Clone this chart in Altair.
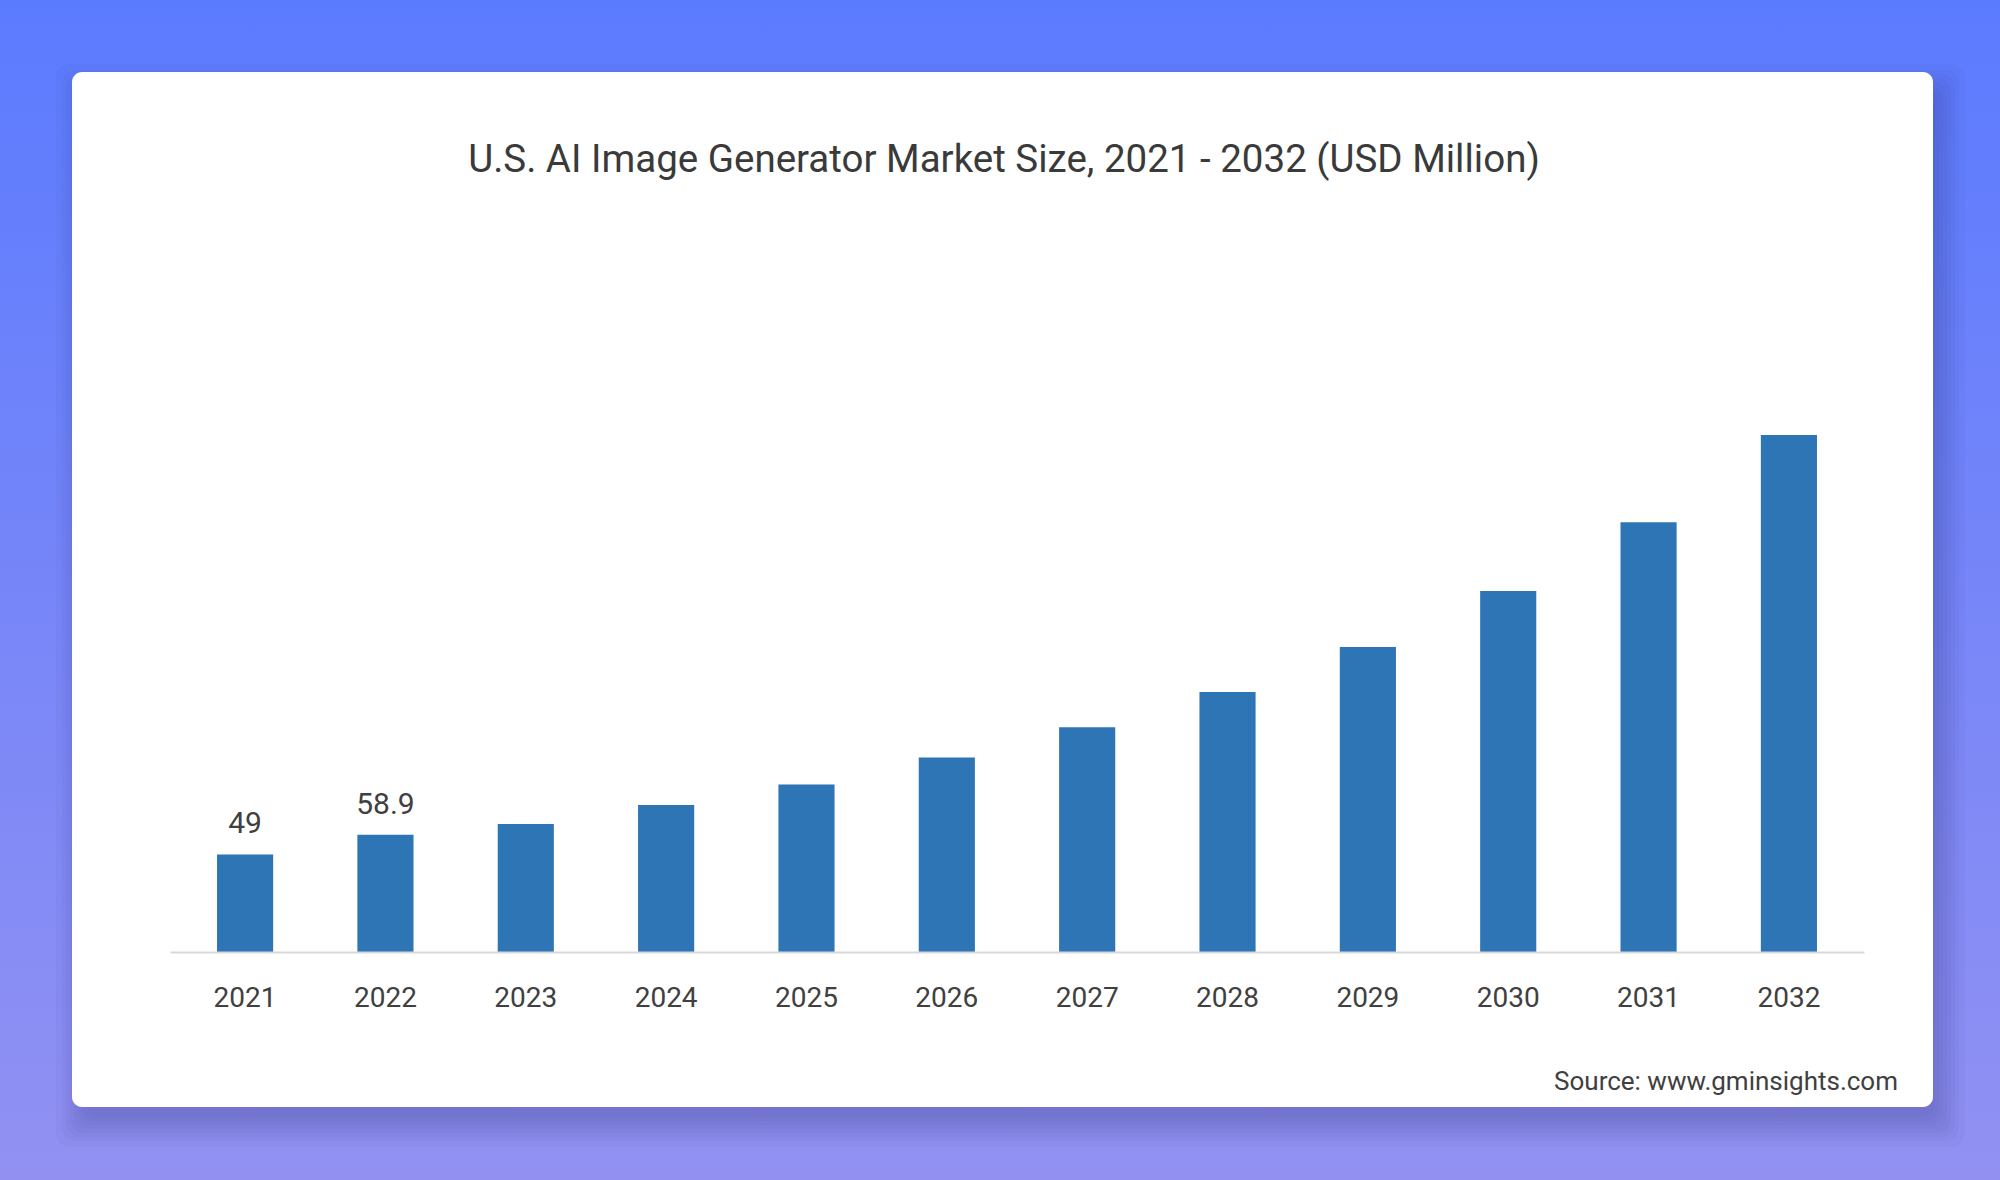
import altair as alt
import pandas as pd

# ---- data ----
years = ["2021", "2022", "2023", "2024", "2025", "2026",
         "2027", "2028", "2029", "2030", "2031", "2032"]
values = [49.0, 58.9, 64.3, 73.9, 84.2, 97.7,
          113.0, 130.7, 153.3, 181.4, 216.0, 259.8]
labeled_years = ["2021", "2022"]
label_texts = ["49", "58.9"]

TITLE = "U.S. AI Image Generator Market Size, 2021 - 2032 (USD Million)"
SOURCE = "Source: www.gminsights.com"

df = pd.DataFrame({"Year": years, "Value": values})
df_lab = pd.DataFrame({"Year": labeled_years,
                       "Value": [values[years.index(y)] for y in labeled_years],
                       "Label": label_texts})
one = pd.DataFrame({"k": [0]})

# ---- layout (canvas px) ----
W, H = 2000, 1180
PL, PT, PR, PB = 170, 355, 136, 228
PW, PH = W - PL - PR, H - PT - PB


def cx(X):
    return X - PL


def cy(Y):
    return Y - PT


FONT = "Roboto, Liberation Sans, sans-serif"
TXT = "#404040"

# background gradient
bg = alt.Chart(one).mark_rect(
    fill=alt.Gradient(
        gradient="linear",
        stops=[alt.GradientStop(color="#5b7bff", offset=0),
               alt.GradientStop(color="#9291f2", offset=1)],
        x1=0, x2=0, y1=0, y2=1),
).encode(x=alt.value(cx(0)), x2=alt.value(cx(W)),
         y=alt.value(cy(0)), y2=alt.value(cy(H)))

# card shadow (stacked translucent rects)
CARD = (72, 72, 1933, 1107)
shadows = []
for s in [-6, -2, 2, 6, 10, 14, 18, 24]:
    shadows.append(
        alt.Chart(one).mark_rect(fill="#1a1a6e", opacity=0.03, cornerRadius=14)
        .encode(x=alt.value(cx(CARD[0] + 8 - s)), x2=alt.value(cx(CARD[2] + 8 + s)),
                y=alt.value(cy(CARD[1] + 16 - s)), y2=alt.value(cy(CARD[3] + 16 + s)))
    )

card = alt.Chart(one).mark_rect(fill="white", cornerRadius=10).encode(
    x=alt.value(cx(CARD[0])), x2=alt.value(cx(CARD[2])),
    y=alt.value(cy(CARD[1])), y2=alt.value(cy(CARD[3])))

title = alt.Chart(one).mark_text(
    text=TITLE, font=FONT, fontSize=38.5, color="#3a3a3a",
    align="center", baseline="middle"
).encode(x=alt.value(cx(1004)), y=alt.value(cy(160)))

source = alt.Chart(one).mark_text(
    text=SOURCE, font=FONT, fontSize=26, color=TXT,
    align="right", baseline="middle"
).encode(x=alt.value(cx(1898)), y=alt.value(cy(1082)))

x_enc = alt.X("Year:N", sort=years,
              scale=alt.Scale(paddingInner=0.6, paddingOuter=0.335),
              axis=alt.Axis(title=None, labelAngle=0, labelFont=FONT,
                            labelFontSize=28, labelColor=TXT, labelPadding=32,
                            ticks=False, tickSize=0, domainColor="#d9d9d9",
                            domainWidth=2, grid=False, zindex=1))
y_enc = alt.Y("Value:Q", scale=alt.Scale(domain=[0, 300]), axis=None)

bars = alt.Chart(df).mark_bar(color="#2e75b6").encode(x=x_enc, y=y_enc)

labels = alt.Chart(df_lab).mark_text(
    font=FONT, fontSize=30, color=TXT, align="center",
    baseline="alphabetic", dy=-21
).encode(x=alt.X("Year:N", sort=years), y=alt.Y("Value:Q"), text="Label:N")

chart = alt.layer(bg, *shadows, card, title, source, bars, labels).properties(
    width=PW, height=PH,
    padding={"left": PL, "top": PT, "right": PR, "bottom": PB},
    autosize=alt.AutoSizeParams(type="none"),
).configure_view(stroke=None).configure(background="#7480f8")

chart.save("out.html", embed_options={"renderer": "svg", "actions": False})
